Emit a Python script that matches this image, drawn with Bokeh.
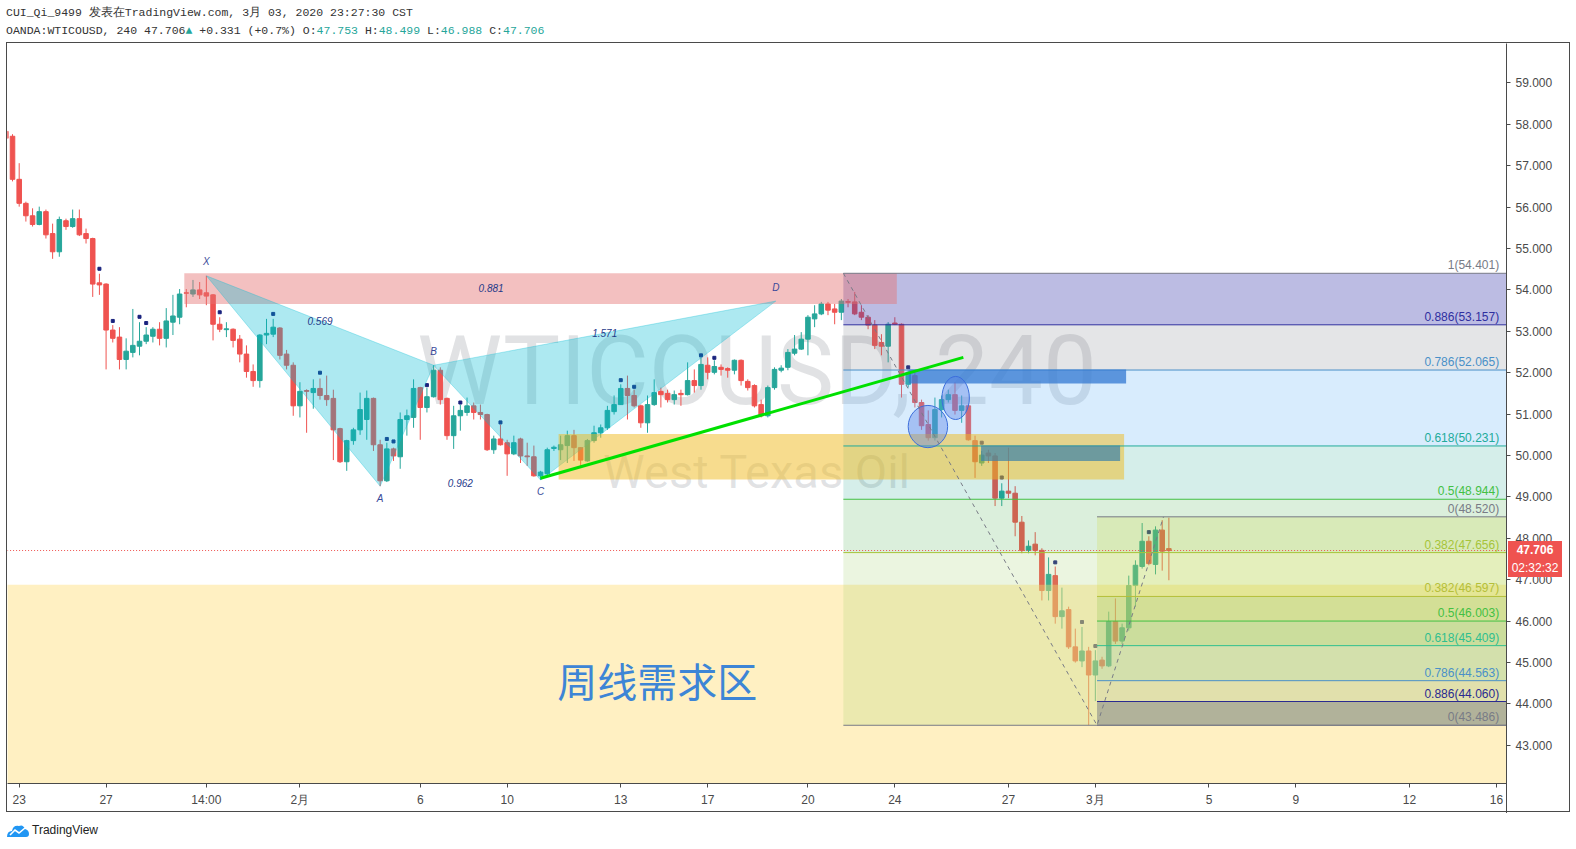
from bokeh.plotting import figure
from bokeh.models import Range1d, FixedTicker, NumeralTickFormatter, Div
from bokeh.layouts import column
from bokeh.embed import file_html
from bokeh.resources import INLINE
from bokeh.core.properties import value

# ---------------- data: 4h candles (bar index 0..174) ----------------
opens = [
    57.83, 57.71, 56.67, 56.09, 55.79, 55.58, 55.89, 55.36, 54.92, 55.67,
    55.53, 55.72, 55.36, 55.24, 54.17, 54.14, 53.03, 52.86, 52.32, 52.49,
    52.64, 52.76, 52.88, 53.05, 52.83, 53.22, 53.34, 53.93, 53.90, 54.00,
    53.93, 53.88, 53.17, 53.04, 53.05, 52.81, 52.45, 52.03, 51.81, 52.91,
    52.93, 53.08, 52.45, 52.18, 51.20, 51.57, 51.52, 51.62, 51.45, 51.38,
    50.65, 49.85, 50.36, 50.62, 50.87, 51.38, 50.26, 49.39, 50.16, 49.97,
    50.87, 50.92, 51.64, 51.16, 51.42, 52.06, 51.38, 50.48, 50.96, 51.04,
    51.20, 51.04, 50.99, 50.14, 50.40, 50.31, 50.04, 50.40, 49.99, 49.97,
    49.51, 49.56, 50.17, 50.14, 50.24, 50.48, 50.19, 49.87, 50.36, 50.55,
    50.67, 51.06, 51.23, 51.62, 51.45, 51.20, 50.79, 51.23, 51.55, 51.50,
    51.35, 51.50, 51.47, 51.81, 51.69, 52.18, 52.01, 52.13, 52.10, 52.06,
    52.30, 51.79, 51.69, 51.23, 50.96, 51.64, 52.06, 52.13, 52.47, 52.57,
    52.81, 53.30, 53.42, 53.66, 53.54, 53.46, 53.72, 53.71, 53.46, 53.34,
    53.15, 52.73, 52.64, 53.20, 53.17, 51.72, 51.93, 51.28, 50.75, 50.43,
    51.11, 51.35, 51.47, 51.09, 51.20, 50.36, 49.82, 50.06, 49.99, 48.97,
    49.14, 49.09, 48.39, 47.71, 47.86, 47.71, 46.74, 47.10, 46.11, 46.28,
    45.38, 45.04, 45.28, 44.70, 45.06, 44.92, 45.99, 45.52, 45.84, 46.86,
    47.32, 47.93, 47.37, 48.20, 47.753,
]
highs = [
    57.90, 57.76, 57.06, 56.13, 55.97, 56.01, 55.94, 55.60, 55.77, 55.72,
    55.94, 55.94, 55.48, 55.26, 54.39, 54.16, 53.15, 53.10, 52.83, 53.54,
    53.22, 53.10, 53.10, 53.22, 53.56, 53.88, 54.02, 54.02, 54.24, 54.19,
    54.34, 53.90, 53.34, 53.22, 53.07, 52.91, 52.66, 52.20, 52.93, 53.30,
    53.30, 53.10, 52.55, 52.25, 51.77, 51.60, 51.84, 51.86, 51.93, 51.59,
    50.67, 50.38, 50.67, 51.52, 51.57, 51.40, 50.38, 50.31, 50.19, 51.04,
    51.11, 51.84, 51.66, 51.64, 52.18, 52.13, 51.40, 51.20, 51.23, 51.40,
    51.28, 51.23, 51.01, 50.48, 50.75, 50.38, 50.48, 50.43, 50.31, 50.24,
    49.63, 50.19, 50.24, 50.48, 50.60, 50.62, 50.20, 50.40, 50.72, 50.75,
    51.20, 51.45, 51.72, 51.93, 51.59, 51.23, 51.45, 51.84, 51.64, 51.59,
    51.57, 51.59, 52.25, 52.08, 52.37, 52.37, 52.30, 52.20, 52.13, 52.32,
    52.32, 51.84, 51.72, 51.35, 51.69, 52.13, 52.18, 52.57, 52.91, 52.98,
    53.39, 53.63, 53.71, 53.71, 53.66, 53.78, 53.78, 53.95, 53.63, 53.39,
    53.27, 52.93, 53.22, 53.34, 53.19, 52.06, 52.01, 51.35, 51.09, 51.40,
    51.45, 51.59, 51.77, 51.45, 51.23, 50.48, 50.11, 50.14, 50.06, 49.33,
    50.19, 49.26, 48.54, 47.95, 48.15, 47.76, 47.54, 47.32, 46.81, 46.35,
    45.82, 45.86, 45.38, 45.30, 45.14, 46.23, 46.55, 45.94, 47.10, 47.47,
    48.37, 48.05, 48.29, 48.44, 48.499,
]
lows = [
    57.62, 56.62, 56.01, 55.65, 55.53, 55.56, 55.24, 54.75, 54.80, 55.45,
    55.50, 55.30, 55.12, 53.83, 53.88, 52.08, 52.73, 52.08, 52.08, 52.37,
    52.42, 52.69, 52.73, 52.66, 52.61, 52.91, 53.17, 53.58, 53.83, 53.78,
    53.63, 52.78, 52.98, 52.86, 52.61, 52.25, 51.88, 51.66, 51.64, 52.69,
    52.86, 52.32, 52.08, 50.96, 50.92, 50.55, 51.13, 51.35, 51.20, 49.89,
    49.82, 49.63, 50.26, 50.50, 50.38, 50.11, 49.26, 49.36, 49.87, 49.68,
    50.48, 50.67, 50.38, 51.04, 51.40, 51.23, 50.38, 50.16, 50.60, 50.96,
    50.87, 50.87, 50.11, 50.04, 50.24, 49.51, 50.01, 49.82, 49.75, 49.49,
    49.41, 49.53, 50.11, 49.89, 49.82, 49.87, 49.75, 49.85, 50.31, 50.43,
    50.62, 50.99, 51.22, 50.87, 51.16, 50.67, 50.55, 51.20, 51.16, 51.28,
    51.23, 51.20, 51.45, 51.52, 51.59, 51.84, 51.96, 51.93, 51.88, 51.96,
    51.69, 51.57, 51.16, 50.92, 50.92, 51.59, 52.01, 52.06, 52.42, 52.55,
    52.42, 53.10, 53.39, 53.39, 53.17, 53.27, 53.58, 53.39, 53.27, 53.05,
    52.57, 52.42, 52.25, 53.15, 51.40, 51.64, 51.16, 50.62, 50.36, 50.36,
    50.92, 51.28, 50.99, 50.79, 50.36, 49.46, 49.75, 49.82, 48.78, 48.78,
    48.97, 48.05, 47.64, 47.64, 47.59, 46.50, 46.50, 45.94, 45.82, 45.33,
    45.00, 44.89, 43.49, 44.07, 44.85, 44.89, 45.45, 45.45, 45.77, 46.35,
    47.27, 47.35, 47.13, 47.22, 46.988,
]
closes = [
    57.66, 56.67, 56.09, 55.79, 55.58, 55.89, 55.33, 54.92, 55.70, 55.53,
    55.72, 55.33, 55.24, 54.14, 54.12, 53.03, 52.83, 52.32, 52.52, 52.66,
    52.76, 52.91, 53.05, 52.83, 53.25, 53.37, 53.90, 53.92, 54.00, 53.88,
    53.85, 53.17, 53.05, 53.06, 52.78, 52.45, 52.03, 51.81, 52.91, 52.95,
    53.10, 52.42, 52.18, 51.20, 51.55, 51.55, 51.62, 51.45, 51.35, 50.62,
    49.85, 50.36, 50.62, 51.11, 51.38, 50.26, 49.39, 50.16, 49.99, 50.87,
    50.96, 51.62, 51.16, 51.42, 52.06, 51.35, 50.48, 50.96, 51.09, 51.20,
    51.04, 50.99, 50.14, 50.40, 50.26, 50.04, 50.31, 49.99, 49.97, 49.51,
    49.60, 50.14, 50.20, 50.26, 50.48, 50.19, 49.89, 50.36, 50.55, 50.67,
    51.09, 51.23, 51.62, 51.45, 51.20, 50.79, 51.23, 51.52, 51.47, 51.35,
    51.47, 51.47, 51.81, 51.69, 52.20, 52.01, 52.15, 52.08, 52.06, 52.30,
    51.81, 51.64, 51.20, 50.96, 51.64, 52.08, 52.11, 52.49, 52.57, 52.81,
    53.34, 53.42, 53.66, 53.51, 53.46, 53.73, 53.70, 53.42, 53.34, 53.15,
    52.66, 52.64, 53.17, 53.17, 51.72, 52.01, 51.28, 50.72, 50.43, 51.11,
    51.35, 51.47, 51.09, 51.20, 50.38, 49.85, 50.01, 49.99, 48.97, 49.14,
    49.09, 48.39, 47.71, 47.81, 47.71, 46.74, 47.13, 46.11, 46.25, 45.38,
    45.04, 45.28, 44.70, 45.04, 44.92, 45.99, 45.52, 45.84, 46.86, 47.35,
    47.93, 47.39, 48.20, 47.69, 47.706,
]

# fractal dots above some candles
dot_bars = [14, 16, 20, 21, 32, 40, 47, 57, 58, 63, 68, 74, 92, 94, 104, 106,
            135, 146, 149, 157, 161, 163, 171]
dot_prices = [54.51, 53.25, 53.35, 53.20, 53.46, 53.42, 52.00, 50.40, 50.34, 51.70,
              51.28, 50.80, 51.82, 51.66, 52.42, 52.36, 52.13, 50.31, 49.47, 47.42,
              45.98, 45.40, 48.15]

# axes
x_tick_bars = [2, 15, 30, 44, 62, 75, 92, 105, 120, 133, 150, 163, 180, 193, 210, 223]
x_tick_labels = ["23", "27", "14:00", "2月", "6", "10", "13", "17", "20", "24",
                 "27", "3月", "5", "9", "12", "16"]
y_ticks = [43, 44, 45, 46, 47, 48, 49, 50, 51, 52, 53, 54, 55, 56, 57, 58, 59]

# Fibonacci retracements
fib1_start = 125.3
fib1_levels = [1, 0.886, 0.786, 0.618, 0.5, 0.382, 0]
fib1_prices = [54.401, 53.157, 52.065, 50.231, 48.944, 47.656, 43.486]
fib2_start = 163.25
fib2_levels = [0, 0.382, 0.5, 0.618, 0.786, 0.886, 1]
fib2_prices = [48.520, 46.597, 46.003, 45.409, 44.563, 44.060, 43.486]

# XABCD harmonic pattern points
pat_names = ["X", "A", "B", "C", "D"]
pat_bars = [30, 56, 64, 80, 115.2]
pat_prices = [54.34, 49.26, 52.18, 49.41, 53.73]
pat_ratios = ["0.569", "0.962", "1.571", "0.881"]

# zones / drawings
weekly_zone_top = 46.88
pink_zone = (26.7, 133.3, 54.40, 53.66)      # left, right, top, bottom
orange_zone = (82.7, 167.3, 50.52, 49.42)
blue_zone1 = (135.1, 167.6, 52.08, 51.74)
blue_zone2 = (145.9, 166.7, 50.24, 49.87)
circle_bars = [137.95, 142.1]
circle_prices = [50.70, 51.39]
circle_w = [5.9, 4.1]
circle_h = [1.02, 1.04]
trend_bars = [80.0, 143.25]
trend_prices = [49.45, 52.37]
fib_path_bars = [125.3, 163.25, 173.2]
fib_path_prices = [54.401, 43.486, 48.520]
caption_bar, caption_price = 97.45, 44.58
last_price = 47.706
countdown = "02:32:32"

X_START, X_END = 0.25, 224.51
Y_START, Y_END = 42.08, 59.95

# page geometry (the screenshot shrinks the page slightly, so sizes are enlarged a bit)
FIG_W, FIG_H = 1564, 770
BORDER_R, BORDER_B = 65, 30
HEADER_H, FOOTER_H = 42, 34

UP, DOWN = "#26a69a", "#ef5350"
bars = list(range(len(opens)))
colors = [UP if c >= o else DOWN for o, c in zip(opens, closes)]
tops = [max(o, c) for o, c in zip(opens, closes)]
bots = [min(o, c) for o, c in zip(opens, closes)]

p = figure(width=FIG_W, height=FIG_H,
           x_range=Range1d(X_START, X_END), y_range=Range1d(Y_START, Y_END),
           y_axis_location="right", toolbar_location=None, output_backend="svg",
           min_border_left=0, min_border_top=0, min_border_right=BORDER_R,
           min_border_bottom=BORDER_B)
p.grid.visible = False
p.outline_line_color = None
p.background_fill_color = "white"
p.border_fill_color = "white"
p.styles = {"border": "1px solid #4a4a4a"}

# watermark
x_mid = (X_START + X_END) / 2
p.text(x=[x_mid], y=[52.05], text=["WTICOUSD, 240"], text_font=value("Roboto"),
       text_font_size="96px", text_align="center", text_baseline="middle",
       text_color="#787b86", text_alpha=0.22)
p.text(x=[x_mid], y=[49.62], text=["West Texas Oil"], text_font=value("Roboto"),
       text_font_size="47px", text_align="center", text_baseline="middle",
       text_color="#787b86", text_alpha=0.22)

# candles
p.segment(x0=bars, y0=lows, x1=bars, y1=highs, line_color=colors, line_width=1)
p.vbar(x=bars, width=0.68, top=tops, bottom=bots, fill_color=colors, line_color=colors, line_width=1)
p.scatter(x=dot_bars, y=dot_prices, marker="square", size=3, color="#1a237e")

# weekly demand zone
p.quad(left=[X_START - 5], right=[X_END + 5], top=[weekly_zone_top], bottom=[Y_START - 5],
       fill_color="#ffde78", fill_alpha=0.45, line_color=None)

# fib 1 fills
fib1_fill = ["#3f3fb0", "#787b86", "#64b5f6", "#089981", "#4caf50", "#9ccc65"]
fib1_alpha = [0.35, 0.2, 0.25, 0.17, 0.2, 0.2]
fib1_line = ["#787b86", "#2f2fa0", "#4a90c8", "#22ab9b", "#43c043", "#a6c43a", "#787b86"]
for i in range(len(fib1_prices) - 1):
    p.quad(left=[fib1_start], right=[X_END + 5], top=[fib1_prices[i]], bottom=[fib1_prices[i + 1]],
           fill_color=fib1_fill[i], fill_alpha=fib1_alpha[i], line_color=None)
# fib 2 fills
fib2_fill = ["#cddc39", "#8bc34a", "#4caf50", "#26a69a", "#787b86", "#787b86"]
fib2_alpha = [0.22, 0.25, 0.2, 0.12, 0.08, 0.5]
fib2_line = ["#787b86", "#b5bf3a", "#43c043", "#2fbf8f", "#4a90c8", "#2a2a90", "#787b86"]
for i in range(len(fib2_prices) - 1):
    p.quad(left=[fib2_start], right=[X_END + 5], top=[fib2_prices[i]], bottom=[fib2_prices[i + 1]],
           fill_color=fib2_fill[i], fill_alpha=fib2_alpha[i], line_color=None)

# pink zone
l, r, t, b = pink_zone
p.quad(left=[l], right=[r], top=[t], bottom=[b], fill_color="#e57373", fill_alpha=0.45, line_color=None)

# XABCD triangles
xs = [[pat_bars[0], pat_bars[1], pat_bars[2]], [pat_bars[2], pat_bars[3], pat_bars[4]]]
ys = [[pat_prices[0], pat_prices[1], pat_prices[2]], [pat_prices[2], pat_prices[3], pat_prices[4]]]
p.patches(xs=xs, ys=ys, fill_color="#00bcd4", fill_alpha=0.32, line_color="#00bcd4", line_alpha=0.3)

# orange zone
l, r, t, b = orange_zone
p.quad(left=[l], right=[r], top=[t], bottom=[b], fill_color="#f0b91e", fill_alpha=0.5, line_color=None)

# fib lines
p.segment(x0=[fib1_start] * len(fib1_prices), y0=fib1_prices, x1=[X_END + 5] * len(fib1_prices),
          y1=fib1_prices, line_color=fib1_line, line_width=1)
p.segment(x0=[fib2_start] * len(fib2_prices), y0=fib2_prices, x1=[X_END + 5] * len(fib2_prices),
          y1=fib2_prices, line_color=fib2_line, line_width=1)

# blue zones
for (l, r, t, b), col, a in [(blue_zone1, "#3278d2", 0.75), (blue_zone2, "#3c82aa", 0.7)]:
    p.quad(left=[l], right=[r], top=[t], bottom=[b], fill_color=col, fill_alpha=a, line_color=None)

# circles
p.ellipse(x=circle_bars, y=circle_prices, width=circle_w, height=circle_h,
          fill_color="#5a82e6", fill_alpha=0.4, line_color="#3c6edc", line_width=1)

# trend line
p.line(x=trend_bars, y=trend_prices, line_color="#00e000", line_width=3)

# fib path (dashed)
p.line(x=fib_path_bars, y=fib_path_prices, line_color="#787b86", line_width=1, line_dash="4 4")

# last price line
p.line(x=[X_START - 5, X_END + 5], y=[last_price, last_price], line_color="#ef5350",
       line_width=1, line_dash="1 2")

# fib labels
fib1_text = [f"{lv:g}({pr:.3f})" for lv, pr in zip(fib1_levels, fib1_prices)]
fib2_text = [f"{lv:g}({pr:.3f})" for lv, pr in zip(fib2_levels[:-1], fib2_prices[:-1])]
lab_x = X_END - 1.1
p.text(x=[lab_x] * len(fib1_text), y=fib1_prices, text=fib1_text, text_align="right",
       text_baseline="bottom", y_offset=-1, text_font=value("Liberation Sans"),
       text_font_size="12px", text_color=fib1_line)
p.text(x=[lab_x] * len(fib2_text), y=fib2_prices[:-1], text=fib2_text, text_align="right",
       text_baseline="bottom", y_offset=-1, text_font=value("Liberation Sans"),
       text_font_size="12px", text_color=fib2_line[:-1])

# pattern labels
pat_dy = [14, -12, 14, -12, 14]
for nm, bx, pr, dy in zip(pat_names, pat_bars, pat_prices, pat_dy):
    p.text(x=[bx], y=[pr], text=[nm], text_align="center", text_baseline="middle",
           y_offset=-dy, text_font=value("Liberation Sans"), text_font_style="italic",
           text_font_size="10px", text_color="#3a4a9a")
pairs = [(0, 2), (1, 3), (2, 4), (0, 4)]
for (i, j), rt in zip(pairs, pat_ratios):
    p.text(x=[(pat_bars[i] + pat_bars[j]) / 2], y=[(pat_prices[i] + pat_prices[j]) / 2], text=[rt],
           text_align="center", text_baseline="middle", text_font=value("Liberation Sans"),
           text_font_style="italic", text_font_size="10px", text_color="#1f3a8a")

# zone caption
p.text(x=[caption_bar], y=[caption_price], text=["周线需求区"], text_align="center",
       text_baseline="middle", text_font=value("Noto Sans CJK SC"), text_font_size="40px",
       text_color="#3d85d6")

# axes
p.yaxis.ticker = FixedTicker(ticks=y_ticks)
p.yaxis.formatter = NumeralTickFormatter(format="0.000")
p.xaxis.ticker = FixedTicker(ticks=x_tick_bars)
p.xaxis.major_label_overrides = {k: v for k, v in zip(x_tick_bars, x_tick_labels)}
for ax in (p.xaxis[0], p.yaxis[0]):
    ax.axis_line_color = "#4a4a4a"
    ax.major_tick_line_color = "#4a4a4a"
    ax.major_tick_out = 4
    ax.major_tick_in = 0
    ax.minor_tick_out = 0
    ax.minor_tick_in = 0
    ax.major_label_text_font = "Liberation Sans"
    ax.major_label_text_font_size = "12px"
    ax.major_label_text_color = "#4a4a4a"
    ax.major_label_standoff = 5

# price tags on the price scale + corner separator (HTML overlay, positions from the scales)
frame_w = FIG_W - BORDER_R
frame_h = FIG_H - BORDER_B
tag_top = HEADER_H + 1 + (Y_END - last_price) / (Y_END - Y_START) * frame_h - 9
tag_left = frame_w + 3
tag_style = ("position:absolute;left:{l:.0f}px;top:{t:.0f}px;width:54px;height:18px;line-height:18px;"
             "background:#ef5350;color:#fff;font-family:'Liberation Sans',sans-serif;font-size:12px;"
             "text-align:center;{extra}")
overlay = (f'<div style="{tag_style.format(l=tag_left, t=tag_top, extra="font-weight:bold;")}">{last_price:.3f}</div>'
           f'<div style="{tag_style.format(l=tag_left, t=tag_top + 18, extra="")}">{countdown}</div>'
           f'<div style="position:absolute;left:{frame_w + 1}px;top:{HEADER_H + 1 + frame_h}px;'
           f'width:1px;height:{BORDER_B}px;background:#4a4a4a"></div>')

T = "#26a69a"
header = Div(text=(
    '<div style="position:relative;width:1570px;height:42px;">'
    '<div style="font-family:\'Liberation Mono\',monospace;font-size:11.5px;color:#333;'
    'line-height:18px;white-space:nowrap;padding-top:4px;">'
    'CUI_Qi_9499 发表在TradingView.com, 3月 03, 2020 23:27:30 CST<br>'
    f'OANDA:WTICOUSD, 240 47.706<span style="color:{T}">▲</span> +0.331 (+0.7%) '
    f'O:<span style="color:{T}">47.753</span> H:<span style="color:{T}">48.499</span> '
    f'L:<span style="color:{T}">46.988</span> C:<span style="color:{T}">47.706</span></div>'
    + overlay + '</div>'),
    width=FIG_W + 2, height=HEADER_H, margin=0,
    styles={"position": "relative", "z-index": "10", "overflow": "visible"})

footer = Div(text=(
    '<div style="display:flex;align-items:center;padding-top:10px;font-family:\'Liberation Sans\',sans-serif;'
    'font-size:12px;color:#222">'
    '<svg width="24" height="16" viewBox="0 0 24 16"><path d="M1 14 Q1 8 6 8 Q7 2 13 3 Q17 1 19 6 '
    'Q23 7 23 11 Q23 14 20 14 Z" fill="#2196f3"/><path d="M4 12 L9 7 L13 10 L19 5" stroke="white" '
    'stroke-width="1.6" fill="none"/></svg><span style="margin-left:2px">TradingView</span></div>'),
    width=FIG_W + 2, height=FOOTER_H, margin=0)

layout = column(header, p, footer, spacing=0, margin=(0, 0, 0, 6))
open("out.html", "w").write(file_html(layout, INLINE))
